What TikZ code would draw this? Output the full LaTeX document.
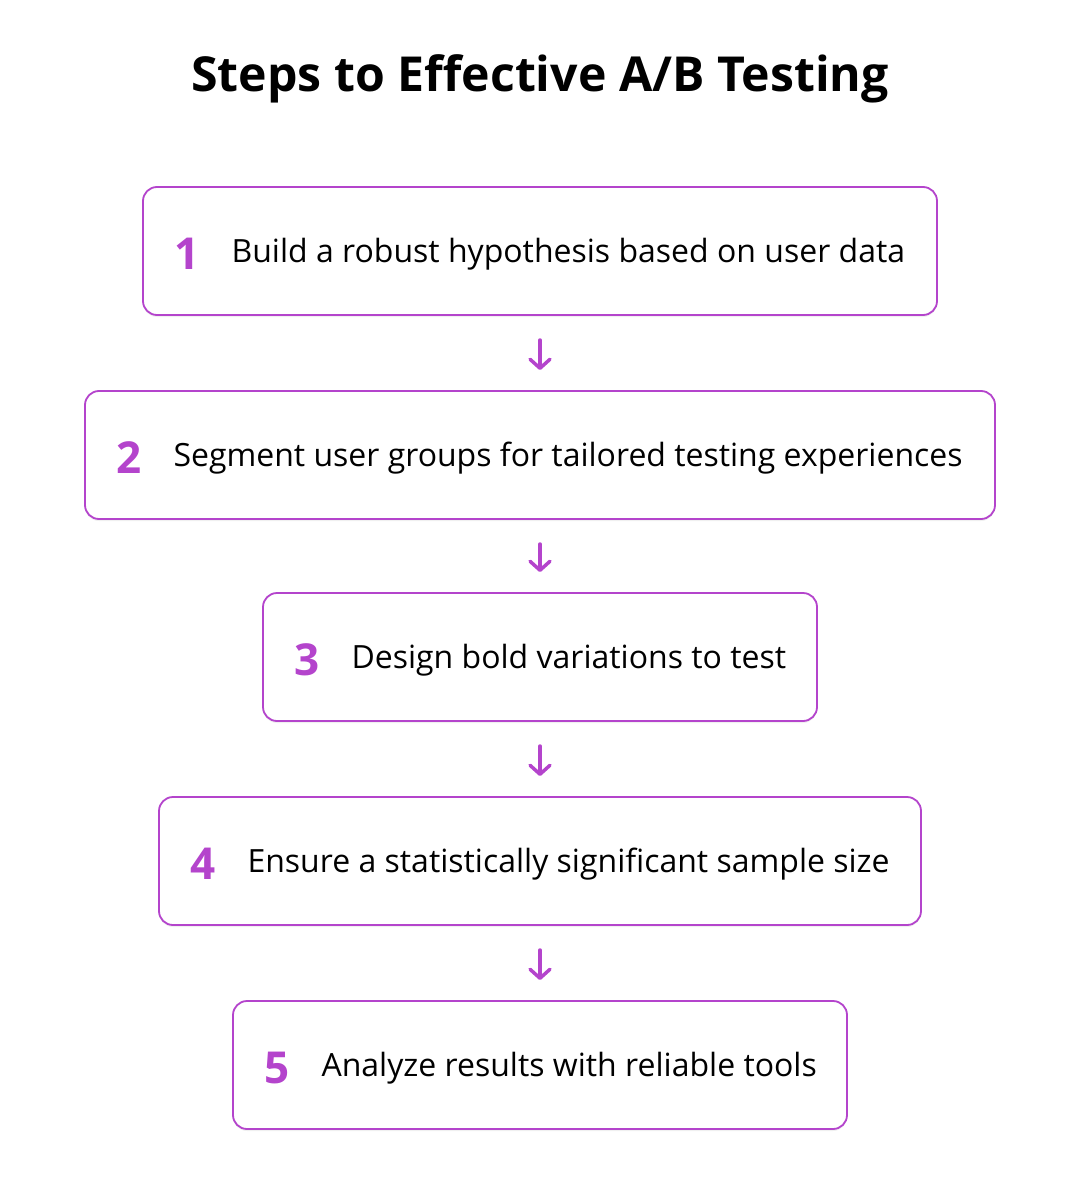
\documentclass[tikz,border=0pt]{standalone}
\usepackage{fontspec}
\setmainfont{Open Sans}
\usetikzlibrary{arrows.meta,shadows}
\definecolor{pur}{HTML}{B444CC}
\begin{document}
\begin{tikzpicture}[x=1pt,y=1pt,
  box/.style={draw=pur,line width=1.8pt,rounded corners=14pt,fill=white,
    drop shadow={shadow xshift=0pt,shadow yshift=-2pt,opacity=0.12}},
  num/.style={text=pur,font=\fontsize{44}{48}\selectfont\bfseries},
  lbl/.style={anchor=west,font=\fontsize{32}{38}\selectfont},
  arr/.style={draw=pur,line width=3.5pt,line cap=round,-{Straight Barb[length=9pt,width=20pt,line width=3.5pt,round]}}]
\useasboundingbox (0,0) rectangle (1080,-1190);
\node[font=\fontsize{48.2}{54}\selectfont\bfseries] (title) at (540,-79) {Steps to Effective A/B Testing};
\foreach \i/\l/\r/\c/\t in {1/143/937/251/Build a robust hypothesis based on user data,
  2/85/995/455/Segment user groups for tailored testing experiences,
  3/263/817/657/Design bold variations to test,
  4/159/921/861/Ensure a statistically significant sample size,
  5/233/847/1065/Analyze results with reliable tools}{
  \path[box] (\l,-\c+64) rectangle (\r,-\c-64);
  \coordinate (b\i t) at (540,-\c+64);
  \coordinate (b\i b) at (540,-\c-64);
  \node[num] (n\i) at (\l+44,-\c-3) {\i};
  \node[lbl] (t\i) at (\l+85,-\c-3) {\t};
}
\foreach \a/\b in {1/2,2/3,3/4,4/5}{
  \draw[arr] ([yshift=-25pt]b\a b) -- ([yshift=21pt]b\b t);
}
\end{tikzpicture}
\end{document}
